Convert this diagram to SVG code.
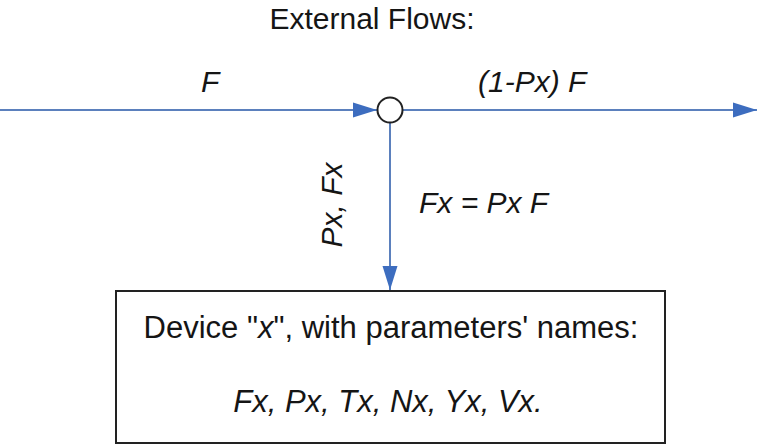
<svg xmlns="http://www.w3.org/2000/svg" width="757" height="445" viewBox="0 0 757 445">
<style>
text { font-family: "Liberation Sans", Arial, sans-serif; fill: #151515; }
.t { font-size: 30px; }
.i { font-style: italic; }
.flow { stroke: #5b80bd; stroke-width: 2; fill: none; }
</style>
<defs>
<marker id="ah" markerUnits="userSpaceOnUse" markerWidth="24" markerHeight="16" refX="24" refY="8" orient="auto">
<path d="M0,0.5 L24,8 L0,15.5 z" fill="#3d6dbf"/>
</marker>
</defs>
<rect width="757" height="445" fill="#ffffff"/>
<text class="t" x="372" y="29" text-anchor="middle">External Flows:</text>
<g id="connectors">
<line class="flow" x1="0" y1="110" x2="377" y2="110" marker-end="url(#ah)"/>
<line class="flow" x1="403" y1="110" x2="757" y2="110" marker-end="url(#ah)"/>
<line class="flow" x1="390" y1="123" x2="390" y2="290" marker-end="url(#ah)"/>
<text class="t i" x="201" y="92">F</text>
<text class="t i" x="478" y="92">(1-Px) F</text>
<text class="t i" x="419" y="213">Fx = Px F</text>
<text class="t i" transform="translate(342,205) rotate(-90)" text-anchor="middle">Px, Fx</text>
</g>
<g id="junction">
<circle cx="390" cy="110" r="12.5" fill="#ffffff" stroke="#222222" stroke-width="2"/>
</g>
<g id="device">
<rect x="116" y="291" width="549" height="152" fill="#ffffff" stroke="#222222" stroke-width="2"/>
<text x="391" y="338" text-anchor="middle" font-size="31">Device "<tspan class="i">x</tspan>", with parameters' names:</text>
<text class="i" x="388" y="412" text-anchor="middle" font-size="31">Fx, Px, Tx, Nx, Yx, Vx.</text>
</g>
</svg>
